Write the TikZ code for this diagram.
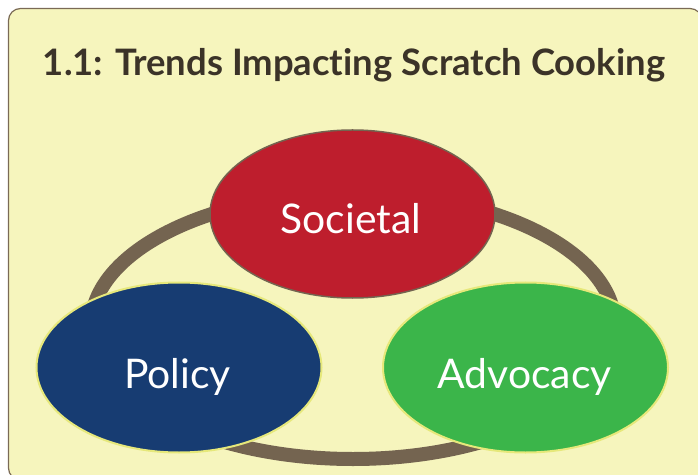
\documentclass[tikz,border=0pt]{standalone}
\usepackage{fontspec}
\setmainfont[Ligatures={TeX,NoCommon}]{Lato}
\usetikzlibrary{shapes.geometric}
\definecolor{panelfill}{HTML}{F6F5BD}
\definecolor{panelline}{HTML}{7A6A55}
\definecolor{ringc}{HTML}{746450}
\definecolor{titlec}{HTML}{3B3328}
\definecolor{socred}{HTML}{BE1E2D}
\definecolor{polblue}{HTML}{173C72}
\definecolor{advgreen}{HTML}{3BB54A}
\definecolor{rimyellow}{HTML}{E6E87A}
\tikzset{
  panel/.style={fill=panelfill, draw=panelline, line width=1.2bp, rounded corners=12bp},
  ringstyle/.style={ellipse, draw=ringc, line width=14bp, inner sep=0pt, minimum width=524bp, minimum height=266bp},
  oval/.style={ellipse, inner sep=0pt, minimum width=285bp, minimum height=170bp},
  ovallabel/.style={text=white, font=\fontsize{41}{48}\selectfont, anchor=base, inner sep=0pt},
  titletext/.style={text=titlec, font=\bfseries\fontsize{36.6}{42}\selectfont, anchor=base, inner sep=0pt}
}
\begin{document}
\begin{tikzpicture}[x=1bp,y=-1bp]
\useasboundingbox (0,0) rectangle (698,475);
\begin{scope}
\clip (0,0) rectangle (698,475);
\draw[panel] (8.5,8.5) rectangle (702,480);
\end{scope}
\node[titletext] (title) at (354,76) {1.1: Trends Impacting Scratch Cooking};
\node[ringstyle] (ring) at (353,326) {};
\node[oval, fill=polblue, draw=rimyellow, line width=2bp] (pol) at (179,367.5) {};
\node[oval, fill=advgreen, draw=rimyellow, line width=2bp] (adv) at (525.5,367.5) {};
\node[oval, fill=socred, draw=ringc, line width=1.5bp, minimum height=168bp] (soc) at (352.5,214) {};
\node[ovallabel] (soclab) at (351,234) {Societal};
\node[ovallabel] (pollab) at (177.5,388) {Policy};
\node[ovallabel] (advlab) at (524.5,388) {Advocacy};
\end{tikzpicture}
\end{document}
